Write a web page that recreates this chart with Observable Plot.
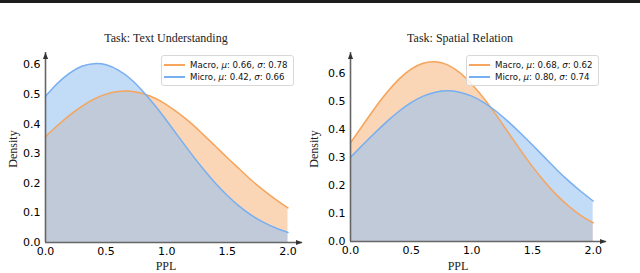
<!DOCTYPE html>
<html><head><meta charset="utf-8">
<script src="https://cdn.jsdelivr.net/npm/d3@7"></script>
<script src="https://cdn.jsdelivr.net/npm/@observablehq/plot@0.6"></script>
<style>
body{margin:0;background:#fff;}
#wrap{position:relative;width:640px;height:273px;overflow:hidden;background:#fff;}
.topbar{position:absolute;left:0;top:0;width:640px;height:3px;background:#1c1c1c;}
.panel{position:absolute;top:0;}
.title,.xlab{position:absolute;font-family:"Liberation Serif",serif;font-size:12px;line-height:12px;color:#222;transform:translateX(-50%);white-space:nowrap;}
.ylab{position:absolute;font-family:"Liberation Serif",serif;font-size:12px;line-height:12px;color:#222;transform:translate(-50%,-50%) rotate(-90deg);white-space:nowrap;}
.legend{position:absolute;width:133px;height:31px;border:1px solid #d8d8d8;border-radius:3px;background:rgba(255,255,255,0.8);box-sizing:border-box;}
.row{position:absolute;left:0;height:10px;font-family:"DejaVu Sans",sans-serif;font-size:8.6px;line-height:10px;color:#111;white-space:nowrap;}
.row .sw{position:absolute;left:2px;top:4px;width:21px;height:0;border-top:2px solid;}
.row .tx{position:absolute;left:28px;top:0;}
</style>
</head><body>
<div id="wrap"><div class="topbar"></div></div>
<script>
// PPL grid (x values) and densities
const ppl = [0,0.1,0.2,0.3,0.4,0.5,0.6,0.7,0.8,0.9,1.0,1.1,1.2,1.3,1.4,1.5,1.6,1.7,1.8,1.9,2.0];
const textMacro = [0.358,0.395,0.430,0.460,0.484,0.501,0.510,0.511,0.503,0.488,0.465,0.436,0.403,0.365,0.326,0.286,0.248,0.210,0.176,0.145,0.117];
const textMicro = [0.494,0.538,0.572,0.595,0.604,0.600,0.582,0.553,0.512,0.464,0.411,0.356,0.301,0.249,0.201,0.159,0.122,0.092,0.068,0.049,0.034];
const spatialMacro = [0.353,0.415,0.477,0.533,0.581,0.617,0.638,0.643,0.632,0.604,0.563,0.512,0.453,0.390,0.328,0.268,0.214,0.166,0.126,0.093,0.067];
const spatialMicro = [0.301,0.345,0.388,0.429,0.466,0.497,0.520,0.534,0.539,0.534,0.520,0.497,0.466,0.429,0.388,0.345,0.301,0.257,0.216,0.179,0.145];
const xTicks = [0,0.5,1.0,1.5,2.0];
const yTicks = [0,0.1,0.2,0.3,0.4,0.5,0.6];
const titles = ["Task: Text Understanding","Task: Spatial Relation"];
const seriesNames = ["Macro","Micro"];
const textStats = [[0.66,0.78],[0.42,0.66]];
const spatialStats = [[0.68,0.62],[0.80,0.74]];
const xLabel = "PPL", yLabel = "Density";

const macroLine = "#f5a55c", microLine = "#78aff0";
const macroFill = "#f4a460", microFill = "#96c1f1";

const arrowRight = {draw(ctx){ctx.moveTo(0,0);ctx.lineTo(-6.5,-2.6);ctx.lineTo(-6.5,2.6);ctx.closePath();}};
const arrowUp = {draw(ctx){ctx.moveTo(0,0);ctx.lineTo(-2.6,6.5);ctx.lineTo(2.6,6.5);ctx.closePath();}};

function panel(macro, micro, o){
  const mRows = ppl.map((x,i)=>({x, y:macro[i]}));
  const uRows = ppl.map((x,i)=>({x, y:micro[i]}));
  const curve = "natural";
  return Plot.plot({
    width:o.width, height:273,
    marginLeft:o.ml, marginRight:o.mr, marginTop:o.mt, marginBottom:o.mb,
    style:{fontFamily:"DejaVu Sans, sans-serif", fontSize:"11px", color:"#000", background:"none", overflow:"visible"},
    x:{domain:[0,o.xMax], ticks:xTicks, tickFormat:d3.format(".1f"), tickSize:0, tickPadding:5, label:null},
    y:{domain:[0,o.yMax], ticks:yTicks, tickFormat:d3.format(".1f"), tickSize:0, tickPadding:5, label:null},
    marks:[
      Plot.areaY(mRows,{x:"x",y:"y",fill:macroFill,fillOpacity:0.45,curve}),
      Plot.areaY(uRows,{x:"x",y:"y",fill:microFill,fillOpacity:0.58,curve}),
      Plot.line(mRows,{x:"x",y:"y",stroke:macroLine,strokeWidth:1.5,curve}),
      Plot.line(uRows,{x:"x",y:"y",stroke:microLine,strokeWidth:1.5,curve}),
      Plot.ruleY([0],{stroke:"#666",strokeWidth:1.6}),
      Plot.ruleX([0],{stroke:"#666",strokeWidth:1.6}),
      Plot.dot([{x:o.xMax,y:0}],{x:"x",y:"y",symbol:arrowRight,fill:"#333",stroke:"none",r:4}),
      Plot.dot([{x:0,y:o.yMax}],{x:"x",y:"y",symbol:arrowUp,fill:"#333",stroke:"none",r:4})
    ]
  });
}

const wrap = document.getElementById("wrap");
function addPanel(svg, left){
  const d = document.createElement("div");
  d.className = "panel"; d.style.left = left+"px";
  d.appendChild(svg); wrap.appendChild(d);
}
function addText(cls, txt, x, y){
  const d = document.createElement("div");
  d.className = cls; d.textContent = txt;
  d.style.left = x+"px"; d.style.top = y+"px";
  wrap.appendChild(d);
}
function addLegend(x, y, stats){
  const lg = document.createElement("div");
  lg.className = "legend"; lg.style.left = x+"px"; lg.style.top = y+"px";
  const cols = [macroLine, microLine];
  stats.forEach((s,i)=>{
    const r = document.createElement("div");
    r.className = "row"; r.style.top = (4 + i*11.5)+"px";
    r.innerHTML = `<span class="sw" style="border-top-color:${cols[i]}"></span><span class="tx">${seriesNames[i]}, <i>μ</i>: ${s[0].toFixed(2)}, <i>σ</i>: ${s[1].toFixed(2)}</span>`;
    lg.appendChild(r);
  });
  wrap.appendChild(lg);
}

addPanel(panel(textMacro, textMicro, {width:320, ml:45, mr:18, mt:52, mb:31, xMax:2.12, yMax:0.6416}), 0);
addPanel(panel(spatialMacro, spatialMicro, {width:340, ml:50, mr:34, mt:52, mb:32, xMax:2.11, yMax:0.6763}), 300);

addText("title", titles[0], 166, 32);
addText("title", titles[1], 460, 32);
addText("xlab", xLabel, 166, 260);
addText("xlab", xLabel, 458, 260);
addText("ylab", yLabel, 13, 149);
addText("ylab", yLabel, 314, 149);
addLegend(161, 55, textStats);
addLegend(466, 55, spatialStats);
wrap.appendChild(wrap.querySelector(".topbar"));
</script>
</body></html>
